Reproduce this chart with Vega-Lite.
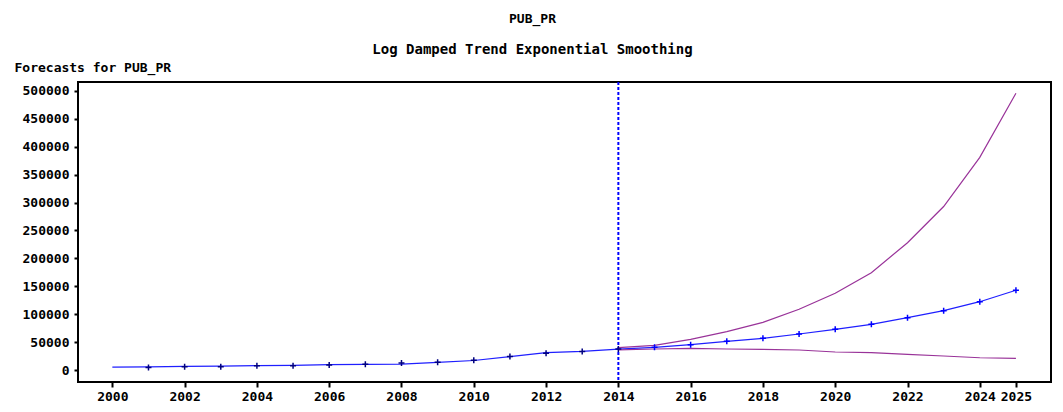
{
  "$schema": "https://vega.github.io/schema/vega-lite/v6.json",
  "width": 973,
  "height": 300,
  "autosize": {"type": "none"},
  "padding": {"left": 78, "top": 82, "right": 12, "bottom": 30},
  "background": "white",
  "title": {
    "text": "PUB_PR",
    "subtitle": "Log Damped Trend Exponential Smoothing",
    "anchor": "middle",
    "frame": "group",
    "dx": -32,
    "offset": 4,
    "font": "DejaVu Sans Mono",
    "fontSize": 13,
    "fontWeight": "bold",
    "color": "black",
    "subtitleFont": "DejaVu Sans Mono",
    "subtitleFontSize": 14,
    "subtitleFontWeight": "bold",
    "subtitleColor": "black",
    "subtitlePadding": 17
  },
  "config": {
    "view": {"stroke": "black", "strokeWidth": 2},
    "axis": {
      "grid": false,
      "domain": false,
      "labelOverlap": false,
      "labelFont": "DejaVu Sans Mono",
      "labelFontSize": 13,
      "labelFontWeight": "bold",
      "labelColor": "black",
      "tickColor": "black",
      "tickWidth": 2,
      "titleFont": "DejaVu Sans Mono",
      "titleFontSize": 13,
      "titleFontWeight": "bold",
      "titleColor": "black"
    }
  },
  "datasets": {
    "lines": [
      {"year": 2000, "value": 5000, "series": "Forecast"},
      {"year": 2001, "value": 5500, "series": "Forecast"},
      {"year": 2002, "value": 6500, "series": "Forecast"},
      {"year": 2003, "value": 6800, "series": "Forecast"},
      {"year": 2004, "value": 8000, "series": "Forecast"},
      {"year": 2005, "value": 8200, "series": "Forecast"},
      {"year": 2006, "value": 9500, "series": "Forecast"},
      {"year": 2007, "value": 10000, "series": "Forecast"},
      {"year": 2008, "value": 10500, "series": "Forecast"},
      {"year": 2009, "value": 13500, "series": "Forecast"},
      {"year": 2010, "value": 17000, "series": "Forecast"},
      {"year": 2011, "value": 24000, "series": "Forecast"},
      {"year": 2012, "value": 31000, "series": "Forecast"},
      {"year": 2013, "value": 33500, "series": "Forecast"},
      {"year": 2014, "value": 37500, "series": "Forecast"},
      {"year": 2015, "value": 40600, "series": "Forecast"},
      {"year": 2016, "value": 45400, "series": "Forecast"},
      {"year": 2017, "value": 51400, "series": "Forecast"},
      {"year": 2018, "value": 56800, "series": "Forecast"},
      {"year": 2019, "value": 64500, "series": "Forecast"},
      {"year": 2020, "value": 72900, "series": "Forecast"},
      {"year": 2021, "value": 81900, "series": "Forecast"},
      {"year": 2022, "value": 93700, "series": "Forecast"},
      {"year": 2023, "value": 106300, "series": "Forecast"},
      {"year": 2024, "value": 122400, "series": "Forecast"},
      {"year": 2025, "value": 143000, "series": "Forecast"},
      {"year": 2014, "value": 40000, "series": "Upper"},
      {"year": 2015, "value": 44000, "series": "Upper"},
      {"year": 2016, "value": 55000, "series": "Upper"},
      {"year": 2017, "value": 68700, "series": "Upper"},
      {"year": 2018, "value": 85400, "series": "Upper"},
      {"year": 2019, "value": 108800, "series": "Upper"},
      {"year": 2020, "value": 137400, "series": "Upper"},
      {"year": 2021, "value": 174400, "series": "Upper"},
      {"year": 2022, "value": 228100, "series": "Upper"},
      {"year": 2023, "value": 293000, "series": "Upper"},
      {"year": 2024, "value": 381000, "series": "Upper"},
      {"year": 2025, "value": 496000, "series": "Upper"},
      {"year": 2014, "value": 36000, "series": "Lower"},
      {"year": 2015, "value": 37600, "series": "Lower"},
      {"year": 2016, "value": 38800, "series": "Lower"},
      {"year": 2017, "value": 37600, "series": "Lower"},
      {"year": 2018, "value": 37000, "series": "Lower"},
      {"year": 2019, "value": 35800, "series": "Lower"},
      {"year": 2020, "value": 32300, "series": "Lower"},
      {"year": 2021, "value": 31000, "series": "Lower"},
      {"year": 2022, "value": 28100, "series": "Lower"},
      {"year": 2023, "value": 25100, "series": "Lower"},
      {"year": 2024, "value": 22000, "series": "Lower"},
      {"year": 2025, "value": 21000, "series": "Lower"}
    ],
    "points": [
      {"year": 2001, "value": 4500, "kind": "Actual"},
      {"year": 2002, "value": 6000, "kind": "Actual"},
      {"year": 2003, "value": 6000, "kind": "Actual"},
      {"year": 2004, "value": 7500, "kind": "Actual"},
      {"year": 2005, "value": 7500, "kind": "Actual"},
      {"year": 2006, "value": 9000, "kind": "Actual"},
      {"year": 2007, "value": 10500, "kind": "Actual"},
      {"year": 2008, "value": 12500, "kind": "Actual"},
      {"year": 2009, "value": 14000, "kind": "Actual"},
      {"year": 2010, "value": 17500, "kind": "Actual"},
      {"year": 2011, "value": 24000, "kind": "Actual"},
      {"year": 2012, "value": 30000, "kind": "Actual"},
      {"year": 2013, "value": 33000, "kind": "Actual"},
      {"year": 2014, "value": 37500, "kind": "Actual"},
      {"year": 2015, "value": 40600, "kind": "Forecast"},
      {"year": 2016, "value": 45400, "kind": "Forecast"},
      {"year": 2017, "value": 51400, "kind": "Forecast"},
      {"year": 2018, "value": 56800, "kind": "Forecast"},
      {"year": 2019, "value": 64500, "kind": "Forecast"},
      {"year": 2020, "value": 72900, "kind": "Forecast"},
      {"year": 2021, "value": 81900, "kind": "Forecast"},
      {"year": 2022, "value": 93700, "kind": "Forecast"},
      {"year": 2023, "value": 106300, "kind": "Forecast"},
      {"year": 2024, "value": 122400, "kind": "Forecast"},
      {"year": 2025, "value": 143000, "kind": "Forecast"}
    ],
    "ref": [{"year": 2014}]
  },
  "encoding": {
    "x": {
      "field": "year",
      "type": "quantitative",
      "scale": {"domain": [1999.05, 2025.97], "nice": false, "zero": false},
      "axis": {
        "title": null,
        "values": [2000, 2002, 2004, 2006, 2008, 2010, 2012, 2014, 2016, 2018, 2020, 2022, 2024, 2025],
        "format": "d",
        "tickSize": 5,
        "labelPadding": 3,
        "labelOverlap": false
      }
    }
  },
  "layer": [
    {
      "data": {"name": "ref"},
      "mark": {"type": "rule", "color": "#0000FF", "strokeWidth": 2, "strokeDash": [3, 2]},
      "encoding": {}
    },
    {
      "data": {"name": "lines"},
      "mark": {"type": "line", "strokeWidth": 1.2},
      "encoding": {
        "y": {
          "field": "value",
          "type": "quantitative",
          "scale": {"domain": [-21500, 516100], "nice": false, "zero": false},
          "axis": {
            "title": "Forecasts for PUB_PR",
            "titleAngle": 0,
            "titleAlign": "left",
            "titleBaseline": "alphabetic",
            "titleX": -64,
            "titleY": -11,
            "values": [0, 50000, 100000, 150000, 200000, 250000, 300000, 350000, 400000, 450000, 500000],
            "format": "d",
            "tickSize": 4,
            "labelPadding": 5,
            "labelOverlap": false
          }
        },
        "color": {
          "field": "series",
          "type": "nominal",
          "scale": {"domain": ["Forecast", "Upper", "Lower"], "range": ["#1F1FFF", "#993399", "#993399"]},
          "legend": null
        }
      }
    },
    {
      "data": {"name": "points"},
      "mark": {"type": "point", "shape": "M-1,0L1,0M0,-1L0,1", "filled": false, "size": 36, "strokeWidth": 1.5, "opacity": 1},
      "encoding": {
        "y": {
          "field": "value",
          "type": "quantitative",
          "scale": {"domain": [-21500, 516100], "nice": false, "zero": false},
          "axis": {
            "title": "Forecasts for PUB_PR",
            "titleAngle": 0,
            "titleAlign": "left",
            "titleBaseline": "alphabetic",
            "titleX": -64,
            "titleY": -11,
            "values": [0, 50000, 100000, 150000, 200000, 250000, 300000, 350000, 400000, 450000, 500000],
            "format": "d",
            "tickSize": 4,
            "labelPadding": 5,
            "labelOverlap": false
          }
        },
        "color": {
          "field": "kind",
          "type": "nominal",
          "scale": {"domain": ["Actual", "Forecast"], "range": ["#000080", "#0000FF"]},
          "legend": null
        }
      }
    }
  ],
  "resolve": {"scale": {"color": "independent"}}
}
